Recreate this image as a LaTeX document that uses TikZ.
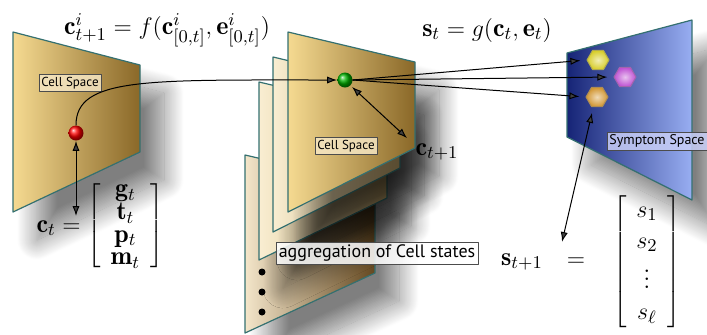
\documentclass[tikz,border=0pt]{standalone}
\usepackage{fontspec}
\setsansfont{PT Sans}
\usetikzlibrary{arrows.meta,shapes.geometric,shadows.blur}

\begin{document}
\begin{tikzpicture}[x=0.5pt, y=-0.5pt, line cap=round, line join=round,
    >={Latex[length=5pt,width=3.6pt]},
    panel/.style={draw=edgeteal, line width=0.6pt,
      blur shadow={shadow xshift=12pt, shadow yshift=-14pt, shadow blur radius=10pt, shadow blur steps=30, shadow opacity=50}},
    formula/.style={font=\fontsize{13}{15.6}\selectfont, inner sep=0pt},
    cellbox/.style={draw=gray!60!black, line width=0.3pt, fill=cellcream, fill opacity=0.85, text opacity=1,
      font=\sffamily\fontsize{6.5}{7}\selectfont, inner sep=1.3pt},
    sphere/.style={circle, minimum size=7.5pt, inner sep=0pt, ball color=#1},
    hexa/.style={regular polygon, regular polygon sides=6, minimum size=11pt, inner sep=0pt,
      draw=#1!55!gray, line width=0.5pt, inner color=#1!35!white, outer color=#1},
    link/.style={line width=0.5pt}]
  \definecolor{edgeteal}{RGB}{52,112,112}
  \definecolor{goldlight}{RGB}{245,218,145}
  \definecolor{golddark}{RGB}{138,104,40}
  \definecolor{creamlight}{RGB}{249,238,210}
  \definecolor{creamdark}{RGB}{200,170,108}
  \definecolor{brownlight}{RGB}{244,230,202}
  \definecolor{browndark}{RGB}{100,72,32}
  \definecolor{bluedark}{RGB}{22,36,118}
  \definecolor{bluelight}{RGB}{152,174,242}
  \definecolor{cellcream}{RGB}{245,230,195}
  \definecolor{symlav}{RGB}{200,206,246}
  \definecolor{hexyel}{RGB}{215,205,40}
  \definecolor{hexpur}{RGB}{190,80,210}
  \definecolor{hexora}{RGB}{210,150,50}
  \useasboundingbox (0,0) rectangle (707,334);

  % cell space at time t
  \path[panel, left color=goldlight, right color=golddark] (13,32) -- (140,65) -- (140,152) -- (13,212) -- cycle;

  % stack of cell spaces
  \path[panel, left color=brownlight, right color=browndark] (245,155) -- (375,185) -- (375,273) -- (245,333) -- cycle;
  \path[panel, left color=creamlight, right color=creamdark] (259,82) -- (387,112) -- (387,198) -- (259,260) -- cycle;
  \path[panel, left color=creamlight, right color=creamdark!90!black] (273,57) -- (400,87) -- (400,168) -- (273,232) -- cycle;
  \path[panel, left color=goldlight, right color=golddark] (288,32) -- (415,62) -- (415,148) -- (288,212) -- cycle;
  \foreach \y in {272,292,312}
    \fill (262,\y) circle (3.5);

  % symptom space
  \path[panel, left color=bluedark, right color=bluelight] (567,53) -- (692,20) -- (692,200) -- (567,137) -- cycle;

  \node[cellbox] (cs1) at (70,83) {Cell Space};
  \node[cellbox] (cs2) at (346,146) {Cell Space};
  \node[cellbox, fill=white] (agg) at (377,253) {\fontsize{9}{10}\selectfont aggregation of Cell states};
  \node[cellbox, fill=symlav] (ss) at (657,141) {\fontsize{7}{8}\selectfont Symptom Space};

  \node[formula] (fupd) at (167,30) {$\mathbf{c}^i_{t+1} = f(\mathbf{c}^i_{[0,t]},\mathbf{e}^i_{[0,t]})$};
  \node[formula] (gsym) at (487,30) {$\mathbf{s}_t = g(\mathbf{c}_t,\mathbf{e}_t)$};
  \node[formula] (cnext) at (437,152) {$\mathbf{c}_{t+1}$};
  \node[formula] (cvec) at (100,226) {\def\arraystretch{0.72}$\mathbf{c}_t=\left[\begin{array}{c}\mathbf{g}_t\\ \mathbf{t}_t\\ \mathbf{p}_t\\ \mathbf{m}_t\end{array}\right]$};
  \node[formula] (snext) at (522,262) {$\mathbf{s}_{t+1}$};
  \node[formula] (seq) at (576,262) {$=$};
  \node[formula] (svec) at (647,262) {$\left[\begin{array}{c}s_1\\ s_2\\ \vdots\\ s_\ell\end{array}\right]$};

  \node[sphere=red] (red) at (76,133) {};
  \node[sphere=green!70!black] (grn) at (345,80) {};
  \node[hexa=hexyel] (hy) at (598,60) {};
  \node[hexa=hexpur] (hp) at (625,77) {};
  \node[hexa=hexora] (ho) at (597,97) {};

  \coordinate (ctend) at (76,216);
  \coordinate (cnend) at (407,138);
  \coordinate (stend) at (562,242);

  \draw[link, ->] (red.north) .. controls +(0,-48) and +(-190,0) .. (grn.west);
  \draw[link, ->, shorten >=3pt] (grn.east) -- (hy.west);
  \draw[link, ->, shorten >=3pt] (grn.east) -- (hp.west);
  \draw[link, ->, shorten >=3pt] (grn.east) -- (ho.west);
  \draw[link, <->] (red.south) -- (ctend);
  \draw[link, <->, shorten <=1pt] (grn.south east) -- (cnend);
  \draw[link, <->, shorten <=3pt] (ho.250) -- (stend);
\end{tikzpicture}
\end{document}
